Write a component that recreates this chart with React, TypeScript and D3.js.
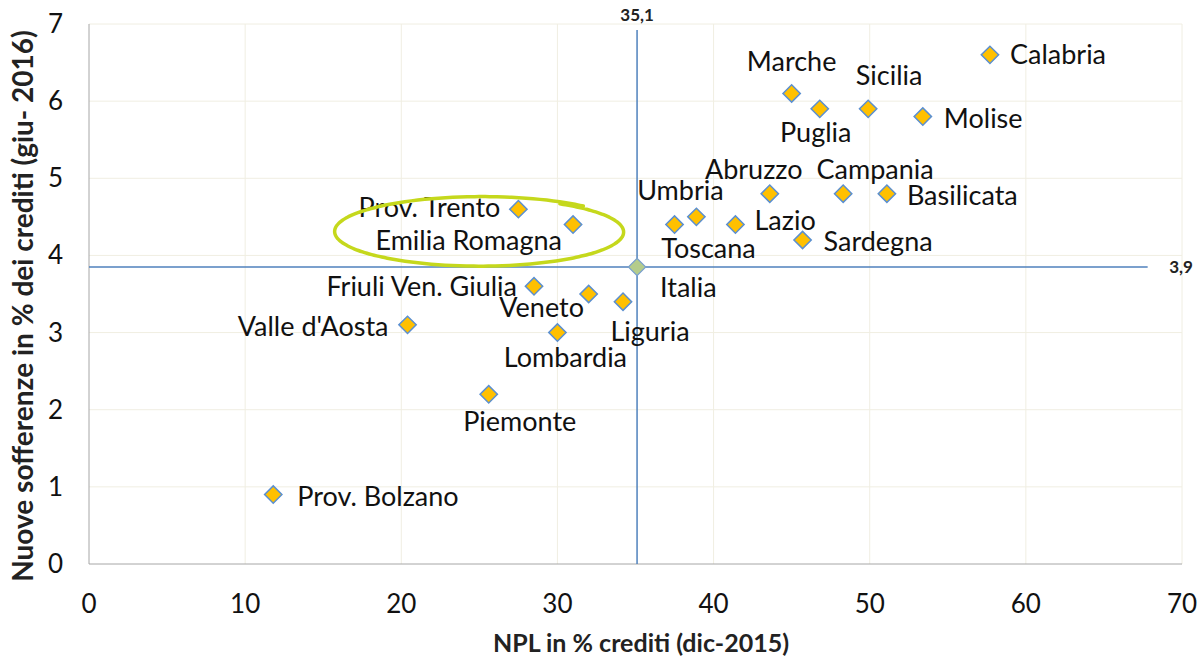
import React, { useRef, useEffect } from 'react';
import * as d3 from 'd3';

// regions and their values
const regions = [
  'Calabria', 'Marche', 'Puglia', 'Sicilia', 'Molise', 'Abruzzo', 'Campania', 'Basilicata',
  'Umbria', 'Toscana', 'Lazio', 'Sardegna', 'Prov. Trento', 'Emilia Romagna',
  'Friuli Ven. Giulia', 'Veneto', 'Liguria', "Valle d'Aosta", 'Lombardia', 'Piemonte', 'Prov. Bolzano',
];
const npl = [57.7, 45.0, 46.8, 49.9, 53.4, 43.6, 48.3, 51.1, 38.9, 37.5, 41.4, 45.7, 27.5, 31.0, 28.5, 32.0, 34.2, 20.4, 30.0, 25.6, 11.8];
const nuoveSofferenze = [6.6, 6.1, 5.9, 5.9, 5.8, 4.8, 4.8, 4.8, 4.5, 4.4, 4.4, 4.2, 4.6, 4.4, 3.6, 3.5, 3.4, 3.1, 3.0, 2.2, 0.9];

const italiaNpl = 35.1;
const italiaSoff = 3.85;

const xTicks = [0, 10, 20, 30, 40, 50, 60, 70];
const yTicks = [0, 1, 2, 3, 4, 5, 6, 7];

// label placement [dx, dy, anchor] relative to the marker (dy = text centre)
const labelPos: Record<string, [number, number, string]> = {
  'Calabria': [20, 0, 'start'],
  'Marche': [0, -31, 'middle'],
  'Puglia': [-4, 24, 'middle'],
  'Sicilia': [21, -33, 'middle'],
  'Molise': [21, 2, 'start'],
  'Abruzzo': [-16, -24, 'middle'],
  'Campania': [32, -24, 'middle'],
  'Basilicata': [20, 2, 'start'],
  'Umbria': [-16, -26, 'middle'],
  'Toscana': [34, 24, 'middle'],
  'Lazio': [19, -4, 'start'],
  'Sardegna': [21, 2, 'start'],
  'Prov. Trento': [-18, -1, 'end'],
  'Emilia Romagna': [-11, 16, 'end'],
  'Friuli Ven. Giulia': [-17, 1, 'end'],
  'Veneto': [-47, 14, 'middle'],
  'Liguria': [27, 30, 'middle'],
  "Valle d'Aosta": [-19, 2, 'end'],
  'Lombardia': [8, 25, 'middle'],
  'Piemonte': [31, 28, 'middle'],
  'Prov. Bolzano': [24, 2, 'start'],
};

const FONT = 'Lato, "Open Sans", sans-serif';

const App = () => {
  const svgRef = useRef<SVGSVGElement>(null);

  useEffect(() => {
    const svg = d3.select(svgRef.current);
    svg.selectAll('*').remove();

    const x = d3.scaleLinear().domain([0, 70]).range([89, 1182]);
    const y = d3.scaleLinear().domain([0, 7]).range([564, 24]);

    svg.append('rect').attr('width', 1200).attr('height', 660).attr('fill', '#fff');

    // gridlines
    const grid = svg.append('g');
    grid.selectAll('line.h').data(yTicks.slice(1)).enter().append('line')
      .attr('x1', x(0)).attr('x2', x(70))
      .attr('y1', d => y(d)).attr('y2', d => y(d))
      .attr('stroke', '#f0eee2').attr('stroke-width', 1);
    grid.selectAll('line.v').data(xTicks.slice(1)).enter().append('line')
      .attr('y1', y(0)).attr('y2', y(7))
      .attr('x1', d => x(d)).attr('x2', d => x(d))
      .attr('stroke', '#f0eee2').attr('stroke-width', 1);

    // axes
    svg.append('line').attr('x1', x(0)).attr('x2', x(0)).attr('y1', y(0)).attr('y2', y(7))
      .attr('stroke', '#a6a6a6').attr('stroke-width', 1);
    svg.append('line').attr('x1', x(0)).attr('x2', x(70)).attr('y1', y(0)).attr('y2', y(0))
      .attr('stroke', '#a6a6a6').attr('stroke-width', 1);

    svg.selectAll('text.xt').data(xTicks).enter().append('text')
      .attr('x', d => x(d)).attr('y', 613)
      .attr('text-anchor', 'middle')
      .style('font-family', FONT).style('font-size', '26px').attr('fill', '#111')
      .text(d => d);
    svg.selectAll('text.yt').data(yTicks).enter().append('text')
      .attr('x', 63).attr('y', d => y(d) + 9)
      .attr('text-anchor', 'end')
      .style('font-family', FONT).style('font-size', '26px').attr('fill', '#111')
      .text(d => d);

    svg.append('text')
      .attr('x', 641).attr('y', 652).attr('text-anchor', 'middle')
      .style('font-family', FONT).style('font-size', '25px').style('font-weight', 'bold')
      .attr('fill', '#222')
      .text('NPL in % crediti (dic-2015)');
    svg.append('text')
      .attr('transform', `translate(33,306) rotate(-90)`).attr('text-anchor', 'middle')
      .style('font-family', FONT).style('font-size', '28px').style('font-weight', 'bold')
      .attr('fill', '#222')
      .text('Nuove sofferenze in % dei crediti (giu- 2016)');

    // Italia reference lines
    svg.append('line')
      .attr('x1', x(italiaNpl)).attr('x2', x(italiaNpl)).attr('y1', 30).attr('y2', y(0))
      .attr('stroke', '#4f81bd').attr('stroke-width', 1.5);
    svg.append('line')
      .attr('x1', x(0)).attr('x2', x(67.8)).attr('y1', y(italiaSoff)).attr('y2', y(italiaSoff))
      .attr('stroke', '#4f81bd').attr('stroke-width', 1.5);
    svg.append('text')
      .attr('x', x(italiaNpl)).attr('y', 21).attr('text-anchor', 'middle')
      .style('font-family', FONT).style('font-size', '17px').style('font-weight', 'bold')
      .attr('fill', '#222').text('35,1');
    svg.append('text')
      .attr('x', 1181).attr('y', y(italiaSoff) + 6).attr('text-anchor', 'middle')
      .style('font-family', FONT).style('font-size', '17px').style('font-weight', 'bold')
      .attr('fill', '#222').text('3,9');

    const diamond = d3.symbol().type(d3.symbolSquare).size(150);

    // points
    const data = regions.map((r, i) => ({ name: r, x: npl[i], y: nuoveSofferenze[i] }));
    const pts = svg.append('g');
    pts.selectAll('path').data(data).enter().append('path')
      .attr('d', diamond)
      .attr('transform', d => `translate(${x(d.x)},${y(d.y)}) rotate(45)`)
      .attr('fill', '#ffc000').attr('stroke', '#5b8fd0').attr('stroke-width', 1.5);

    pts.selectAll('text').data(data).enter().append('text')
      .attr('x', d => x(d.x) + labelPos[d.name][0])
      .attr('y', d => y(d.y) + labelPos[d.name][1] + 9)
      .attr('text-anchor', d => labelPos[d.name][2])
      .style('font-family', FONT).style('font-size', '27px').attr('fill', '#111')
      .text(d => d.name);

    // Italia
    svg.append('path')
      .attr('d', diamond)
      .attr('transform', `translate(${x(italiaNpl)},${y(italiaSoff)}) rotate(45)`)
      .attr('fill', '#b4cc8c').attr('stroke', '#7aa0cf').attr('stroke-width', 1.2);
    svg.append('text')
      .attr('x', x(italiaNpl) + 23).attr('y', y(italiaSoff) + 30)
      .style('font-family', FONT).style('font-size', '27px').attr('fill', '#111')
      .text('Italia');

    // hand-drawn highlight around Trento / Emilia Romagna
    const cx = x(25.1), cy = y(4.3), rx = 143, ry = 34;
    const steps = d3.range(-1.25, 2 * Math.PI - 1.05, 0.05);
    const loop = steps.map(t => {
      const k = 1 + 0.05 * (t / (2 * Math.PI));
      return [cx + rx * k * Math.cos(t + Math.PI / 2 - 1.3), cy - 0.5 + ry * Math.sin(t + Math.PI / 2 - 1.3) * k] as [number, number];
    });
    svg.append('path')
      .attr('d', d3.line().curve(d3.curveCatmullRom)(loop))
      .attr('fill', 'none').attr('stroke', '#c5d81c').attr('stroke-width', 3.5)
      .attr('stroke-linecap', 'round');
  }, []);

  return (
    <div style={{ position: 'absolute', left: 0, top: 0 }}>
      <svg ref={svgRef} width={1200} height={660} style={{ display: 'block' }}></svg>
    </div>
  );
};

export default App;
